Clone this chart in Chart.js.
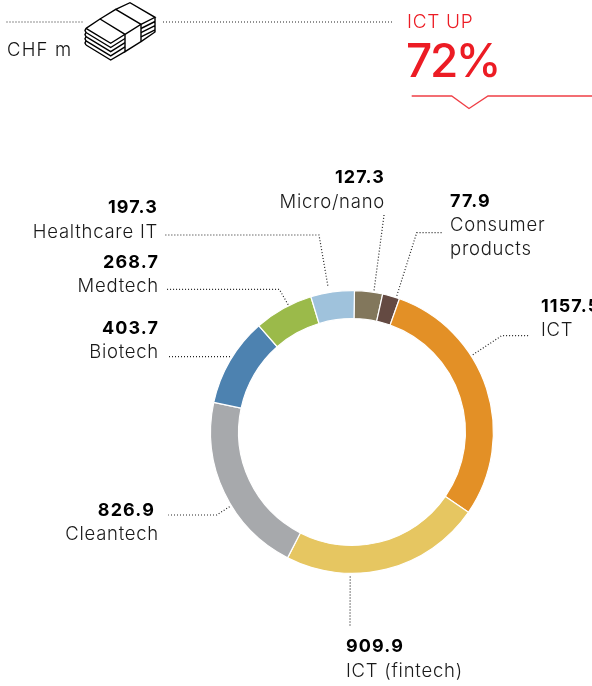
<!DOCTYPE html>
<html>
<head>
<meta charset="utf-8">
<script src="https://cdn.jsdelivr.net/npm/chart.js@4"></script>
<style>
html,body{margin:0;padding:0;background:#fff;width:592px;height:686px;overflow:hidden}
#wrap{position:relative;width:592px;height:686px;overflow:hidden;font-family:Inter,sans-serif}
canvas{position:absolute;left:0;top:0}
svg{position:absolute;left:0;top:0}
.t{position:absolute;white-space:nowrap;line-height:1}
</style>
</head>
<body>
<div id="wrap">
<canvas id="c" width="592" height="686"></canvas>
<svg width="592" height="125" fill="none">
  <path d="M6.5 22H83M163 22H392" stroke="#222" stroke-width="1.2" stroke-dasharray="1 2"/>
  <g stroke="#000" stroke-width="1.4" stroke-linejoin="miter">
    <path d="M86 28.3L110.7 43.3L125 34.3L100 19L86 28.3M100 19L115.7 9.3L141 24.3L125 34.3M115.7 9.3L130 2.7L155 17.3L141 24.3"/>
    <path d="M86 32.5L110.7 47.5L125 38.5M86 36.7L110.7 51.7L125 42.7M86 40.9L110.7 55.9L125 46.9M86 45L110.7 60L125 51.7"/>
    <path d="M86 28.3L85 30.4L86 32.5L85 34.6L86 36.7L85 38.8L86 40.9L85 43L86 45"/>
    <path d="M125 34.3V51.7L141 41.7V24.3"/>
    <path d="M141 28.5L155 21.5M141 32.7L155 25.7M141 36.9L155 29.9M155 17.3V32L141 41.7"/>
  </g>
  <path d="M411.7 96H451.7L469 108.5L488 96H592" stroke="#ec1c24" stroke-width="1.3" opacity=".85"/>
</svg>
<div class="t" style="left:7px;top:40px;font-size:18.5px;font-weight:300;color:#111;letter-spacing:1.2px">CHF m</div>
<div class="t" style="left:407px;top:12px;font-size:19px;font-weight:300;color:#ec1c24;letter-spacing:.7px">ICT UP</div>
<div class="t" style="left:406px;top:37px;font-size:46px;font-weight:500;color:#ec1c24;letter-spacing:-2.4px">72%</div>
</div>
<script>
const categories = ["Micro/nano","Consumer products","ICT","ICT (fintech)","Cleantech","Biotech","Medtech","Healthcare IT"];
const values = [127.3,77.9,1157.5,909.9,826.9,403.7,268.7,197.3];
const colours = ["#82775c","#644a42","#e39026","#e6c661","#a7a9ac","#4d82b0","#9bba4a","#9fc2dc"];

// label layout (annotation only): text anchor, line baselines, leader route
const annotations = [
 {align:"right",x:385,ys:[183,208],lines:["Micro/nano"],frac:.68,gap:2,route:[[384.3,213]]},
 {align:"left",x:450,ys:[207,231,255],lines:["Consumer","products"],frac:.8,gap:2,route:[[416.7,232.7],[441.7,232.7]]},
 {align:"left",x:541,ys:[312,336],lines:["ICT"],frac:.36,gap:2,route:[[501.7,335.7],[530,335.7]]},
 {align:"left",x:346,ys:[652,677],lines:["ICT (fintech)"],frac:.68,gap:3,route:[[350,626]]},
 {align:"right",x:155,ys:[516,540],xs:[155,159],lines:["Cleantech"],frac:.42,gap:2,route:[[216.7,515],[168.3,515]]},
 {align:"right",x:159,ys:[334,358],lines:["Biotech"],frac:.535,gap:2,route:[[168.3,356.7]]},
 {align:"right",x:159,ys:[268,292],lines:["Medtech"],frac:.6,gap:1,route:[[279.3,289.3],[165.7,289.3]]},
 {align:"right",x:158,ys:[213,238],lines:["Healthcare IT"],frac:.42,gap:7,route:[[319,235],[165,235]]}
];

const labelPlugin = {
  id:"labelPlugin",
  afterDatasetsDraw(chart){
    const ctx = chart.ctx;
    const arcs = chart.getDatasetMeta(0).data;
    ctx.save();
    arcs.forEach((arc,i)=>{
      const a = annotations[i];
      const p = arc.getProps(["x","y","startAngle","endAngle","outerRadius"],true);
      const ang = p.startAngle + (p.endAngle-p.startAngle)*a.frac;
      const r = p.outerRadius + a.gap;
      ctx.beginPath();
      ctx.moveTo(p.x+Math.cos(ang)*r, p.y+Math.sin(ang)*r);
      a.route.forEach(q=>ctx.lineTo(q[0],q[1]));
      ctx.strokeStyle="#222"; ctx.lineWidth=1.2; ctx.setLineDash([1,2]); ctx.stroke();
      ctx.setLineDash([]);
      ctx.textAlign=a.align; ctx.textBaseline="alphabetic";
      ctx.fillStyle="#000"; ctx.letterSpacing="1.1px";
      ctx.font="700 18px Inter, sans-serif";
      ctx.fillText(values[i].toFixed(1), a.x, a.ys[0]);
      ctx.fillStyle="#1a1a1a"; ctx.letterSpacing="0.75px";
      ctx.font="300 18.5px Inter, sans-serif";
      a.lines.forEach((l,k)=>ctx.fillText(l, a.xs?a.xs[k+1]:a.x, a.ys[k+1]));
    });
    ctx.restore();
  }
};

new Chart(document.getElementById("c"),{
  type:"doughnut",
  data:{labels:categories,datasets:[{data:values,backgroundColor:colours,borderColor:"#fff",borderWidth:1.2}]},
  options:{
    responsive:false,animation:false,cutout:"80.2%",rotation:1,
    layout:{padding:{left:210,right:98,top:290,bottom:112}},
    plugins:{legend:{display:false},tooltip:{enabled:false}}
  },
  plugins:[labelPlugin]
});
</script>
</body>
</html>
